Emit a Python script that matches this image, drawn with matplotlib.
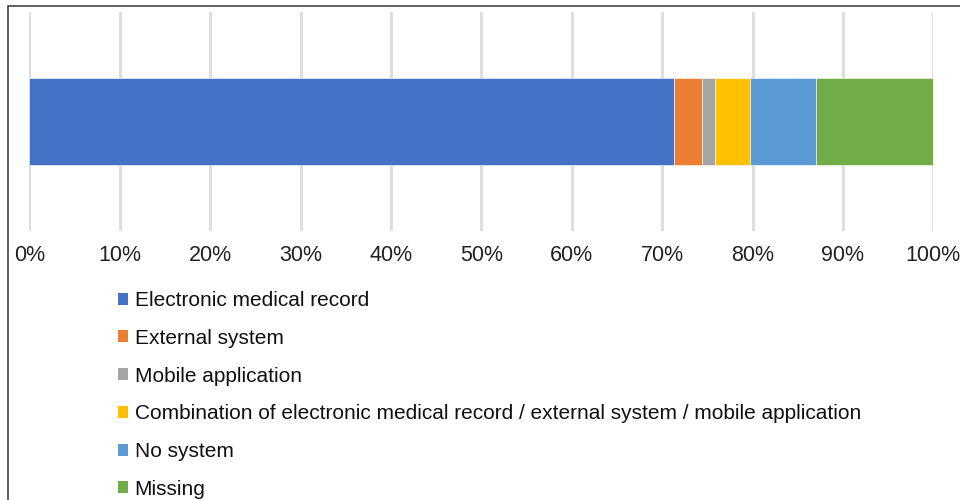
import matplotlib.pyplot as plt
from matplotlib.patches import Rectangle, Patch

plt.rcParams['font.family'] = ['Liberation Sans', 'DejaVu Sans']

categories = [
    "Electronic medical record",
    "External system",
    "Mobile application",
    "Combination of electronic medical record / external system / mobile application",
    "No system",
    "Missing",
]
shares = [71.3, 3.1, 1.5, 3.8, 7.3, 13.0]
colors = ["#4472C4", "#ED7D31", "#A5A5A5", "#FFC000", "#5B9BD5", "#70AD47"]
ticks = list(range(0, 101, 10))
tick_labels = [f"{t}%" for t in ticks]

fig = plt.figure(figsize=(9.6, 5), dpi=100)
W, H = 960, 500
ax = fig.add_axes([29.3 / W, 1 - 231 / H, 904 / W, 219 / H])

left = 0
handles = []
for name, val, col in zip(categories, shares, colors):
    ax.barh(0, val, left=left, height=0.8, color=col, edgecolor="white", linewidth=0.4, zorder=3)
    handles.append(Patch(facecolor=col, edgecolor="none", label=name))
    left += val

ax.set_xlim(0, 100)
ax.set_ylim(-1, 1)
ax.set_xticks(ticks)
ax.set_xticklabels(tick_labels, fontsize=15.5, color="#222222")
ax.set_yticks([])
ax.tick_params(axis="x", length=0, pad=10)
ax.grid(axis="x", color="#dcdcdc", linewidth=2, zorder=0)
for s in ax.spines.values():
    s.set_visible(False)

leg = fig.legend(handles=handles, loc="upper left", bbox_to_anchor=(118 / W, 1 - 291 / H),
                 frameon=False, fontsize=15, handlelength=0.5, handleheight=0.5,
                 handletextpad=0.3, labelspacing=0.9, borderaxespad=0, borderpad=0)
for t in leg.get_texts():
    t.set_color("#111111")

# outer frame of the figure
fig.patches.append(Rectangle((8 / W, -0.1), 1.1, 1 - 6 / H + 0.1, transform=fig.transFigure,
                             fill=False, edgecolor="#444444", linewidth=1.2))

fig.savefig("out.png", dpi=100)
